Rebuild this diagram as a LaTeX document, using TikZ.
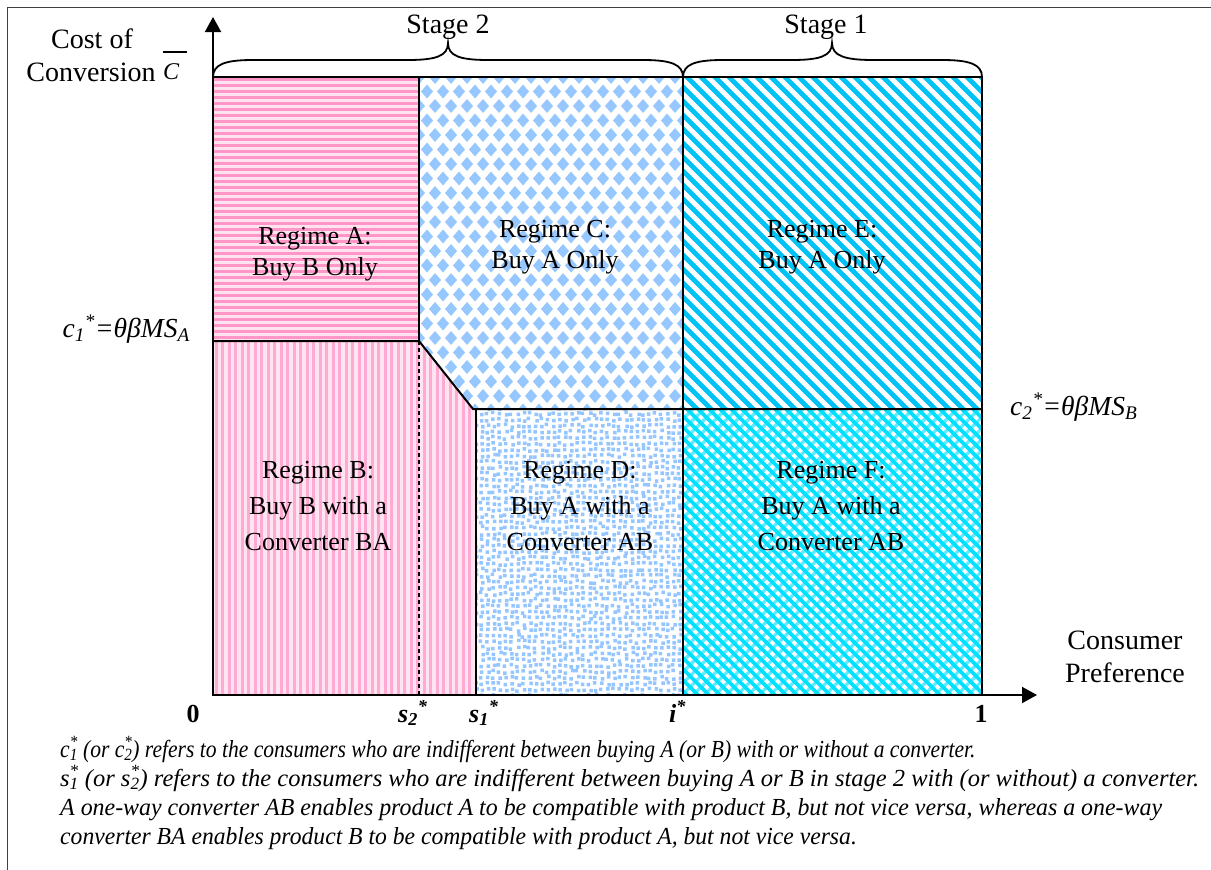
\documentclass[tikz,border=0pt]{standalone}
\usepackage{fontspec}
\setmainfont{Liberation Serif}
\usetikzlibrary{arrows.meta}

% fills of the six regimes
\definecolor{pinkA}{RGB}{255,150,200}
\definecolor{pinkAbg}{RGB}{255,226,240}
\definecolor{pinkB}{RGB}{255,170,211}
\definecolor{pinkBbg}{RGB}{255,228,241}
\definecolor{blueC}{RGB}{150,200,255}
\definecolor{blueD}{RGB}{150,198,255}
\definecolor{cyanE}{RGB}{0,195,245}
\definecolor{cyanF}{RGB}{0,225,255}
\definecolor{cyanFl}{RGB}{100,234,255}

\begin{document}
\begin{tikzpicture}[x=1pt,y=-1pt,
  border/.style={line width=2pt, line join=miter},
  axis/.style={line width=2pt, -{Triangle[length=15pt,width=16pt]}},
  brace/.style={line width=1.8pt},
  lab/.style={inner sep=0pt, font=\fontsize{28}{32}\selectfont},
  regime/.style={inner sep=0pt, align=center, font=\fontsize{26}{31}\selectfont},
  regimetall/.style={inner sep=0pt, align=center, font=\fontsize{26}{36}\selectfont},
  axlab/.style={inner sep=0pt, font=\fontsize{26}{30}\selectfont\bfseries},
  note/.style={inner sep=0pt, font=\fontsize{24.5}{29}\selectfont\itshape}]

\useasboundingbox (0,0) rectangle (1211,870);

% outer frame
\draw[line width=1pt, black!75] (7,870) -- (7,7) -- (1211,7);

% ---------- Regime A: horizontal pink stripes
\begin{scope}
  \clip (213,77) rectangle (419,341);
  \fill[pinkAbg] (213,77) rectangle (419,341);
  \draw[pinkA, line width=3pt] \foreach \y in {79,85,...,343} { (213,\y) -- (419,\y) };
\end{scope}

% ---------- Regime B: vertical pink stripes
\begin{scope}
  \clip (213,341) -- (419,341) -- (473,409) -- (476,409) -- (476,695) -- (213,695) -- cycle;
  \fill[pinkBbg] (213,341) rectangle (476,695);
  \draw[pinkB, line width=3pt] \foreach \x in {216,222.5,...,480} { (\x,341) -- (\x,695) };
\end{scope}

% ---------- Regime C: blue diamonds
\begin{scope}
  \clip (419,77) -- (683,77) -- (683,409) -- (473,409) -- (419,341) -- cycle;
  \fill[blueC] \foreach \x in {419,435,...,700} { \foreach \y in {77,106,...,440} {
      (\x,\y-7) -- (\x+6,\y) -- (\x,\y+7) -- (\x-6,\y) -- cycle
      (\x+8,\y+7.5) -- (\x+14,\y+14.5) -- (\x+8,\y+21.5) -- (\x+2,\y+14.5) -- cycle } };
\end{scope}

% ---------- Regime D: fine blue confetti
\begin{scope}
  \clip (476,409) rectangle (683,695);
  \pgfmathsetseed{42}
  \fill[blueD] \foreach \x in {474,480,...,688} { \foreach \y in {406,412,...,700} {
      (\x+1.5*rand,\y+1.5*rand) rectangle ++(3.5,3.5) } };
\end{scope}

% ---------- Regime E: wide cyan diagonal stripes
\begin{scope}
  \clip (683,77) rectangle (982,409);
  \draw[cyanE, line width=4.8pt] \foreach \k in {330,344,...,1000} { (\k,70) -- ++(350,350) };
\end{scope}

% ---------- Regime F: cyan trellis
\begin{scope}
  \clip (683,409) rectangle (982,695);
  \draw[cyanFl, line width=3.2pt] \foreach \k in {680,691,...,1300} { (\k,400) -- ++(-310,310) };
  \draw[cyanF, line width=3.8pt] \foreach \k in {370,381,...,990} { (\k,400) -- ++(310,310) };
\end{scope}

% ---------- regime borders
\draw[border] (213,77) rectangle (982,695);
\draw[border] (213,341) -- (419,341) -- (473,409) -- (982,409);
\draw[border] (419,77) -- (419,341);
\draw[border] (476,409) -- (476,695);
\draw[border] (683,77) -- (683,695);
\draw[line width=1.2pt, dash pattern=on 4pt off 3pt] (419,341) -- (419,695);

% ---------- axes
\coordinate (O) at (213,695);
\coordinate (ytip) at (213,17);
\coordinate (xtip) at (1037,695);
\draw[axis] (O) -- (ytip);
\draw[axis] (O) -- (xtip);

% ---------- stage braces
\draw[brace] (213,77) .. controls (213,64) and (226,60) .. (253,60) -- (408,60)
  .. controls (436,60) and (448,56) .. (448,43) .. controls (448,56) and (460,60) .. (488,60)
  -- (643,60) .. controls (670,60) and (683,64) .. (683,77);
\draw[brace] (683,77) .. controls (683,64) and (696,60) .. (723,60) -- (792,60)
  .. controls (820,60) and (832,56) .. (832,43) .. controls (832,56) and (845,60) .. (873,60)
  -- (942,60) .. controls (969,60) and (982,64) .. (982,77);
\node[lab, anchor=base] (stage2) at (448,33) {Stage 2};
\node[lab, anchor=base] (stage1) at (826,33) {Stage 1};

% ---------- axis titles
\node[lab, anchor=base] (cost) at (92,48) {Cost of};
\node[lab, anchor=base] (conv) at (91,81) {Conversion};
\node[inner sep=0pt, anchor=base west, font=\fontsize{24}{28}\selectfont\itshape] (cbar) at (163,79) {C};
\draw[line width=1.3pt] (163,52) -- (187,52);
\node[lab, anchor=base] (cons) at (1125,649) {Consumer};
\node[lab, anchor=base] (pref) at (1125,682) {Preference};

% ---------- thresholds on the vertical side
\node[lab, anchor=base east, font=\fontsize{27.5}{30}\selectfont\itshape] (c1) at (190,337)
  {c\textsubscript{1}\textsuperscript{*}=θβMS\textsubscript{A}};
\node[lab, anchor=base west, font=\fontsize{27.5}{30}\selectfont\itshape] (c2) at (1010,415)
  {c\textsubscript{2}\textsuperscript{*}=θβMS\textsubscript{B}};

% ---------- ticks on the horizontal axis
\node[axlab, anchor=base] (zero) at (193,722) {0};
\node[axlab, anchor=base west] (s2) at (398,722) {\itshape s\textsubscript{2}\textsuperscript{*}};
\node[axlab, anchor=base west] (s1) at (469,722) {\itshape s\textsubscript{1}\textsuperscript{*}};
\node[axlab, anchor=base west] (istar) at (669,722) {\itshape i\textsuperscript{*}};
\node[axlab, anchor=base] (one) at (981,722) {1};

% ---------- regime labels
\node[regime] (regA) at (315,254) {Regime A:\\Buy B Only};
\node[regime] (regC) at (555,247) {Regime C:\\Buy A Only};
\node[regime] (regE) at (822,247) {Regime E:\\Buy A Only};
\node[regimetall] (regB) at (318,506) {Regime B:\\Buy B with a\\Converter BA};
\node[regimetall] (regD) at (580,506) {Regime D:\\Buy A with a\\Converter AB};
\node[regimetall] (regF) at (831,506) {Regime F:\\Buy A with a\\Converter AB};

% ---------- notes (set in a narrow italic)
\node[note, anchor=base west] (n1) at (60,757)
  {\scalebox{0.88}[1]{c\rlap{\textsubscript{1}}\textsuperscript{*} (or c\rlap{\textsubscript{2}}\textsuperscript{*}) refers to the consumers who are indifferent between buying A (or B) with or without a converter.}};
\node[note, anchor=base west] (n2) at (60,786)
  {s\rlap{\textsubscript{1}}\textsuperscript{*} (or s\rlap{\textsubscript{2}}\textsuperscript{*}) refers to the consumers who are indifferent between buying A or B in stage 2 with (or without) a converter.};
\node[note, anchor=base west] (n3) at (60,815)
  {\scalebox{0.975}[1]{A one-way converter AB enables product A to be compatible with product B, but not vice versa, whereas a one-way}};
\node[note, anchor=base west] (n4) at (60,844)
  {\scalebox{0.965}[1]{converter BA enables product B to be compatible with product A, but not vice versa.}};

\end{tikzpicture}
\end{document}
